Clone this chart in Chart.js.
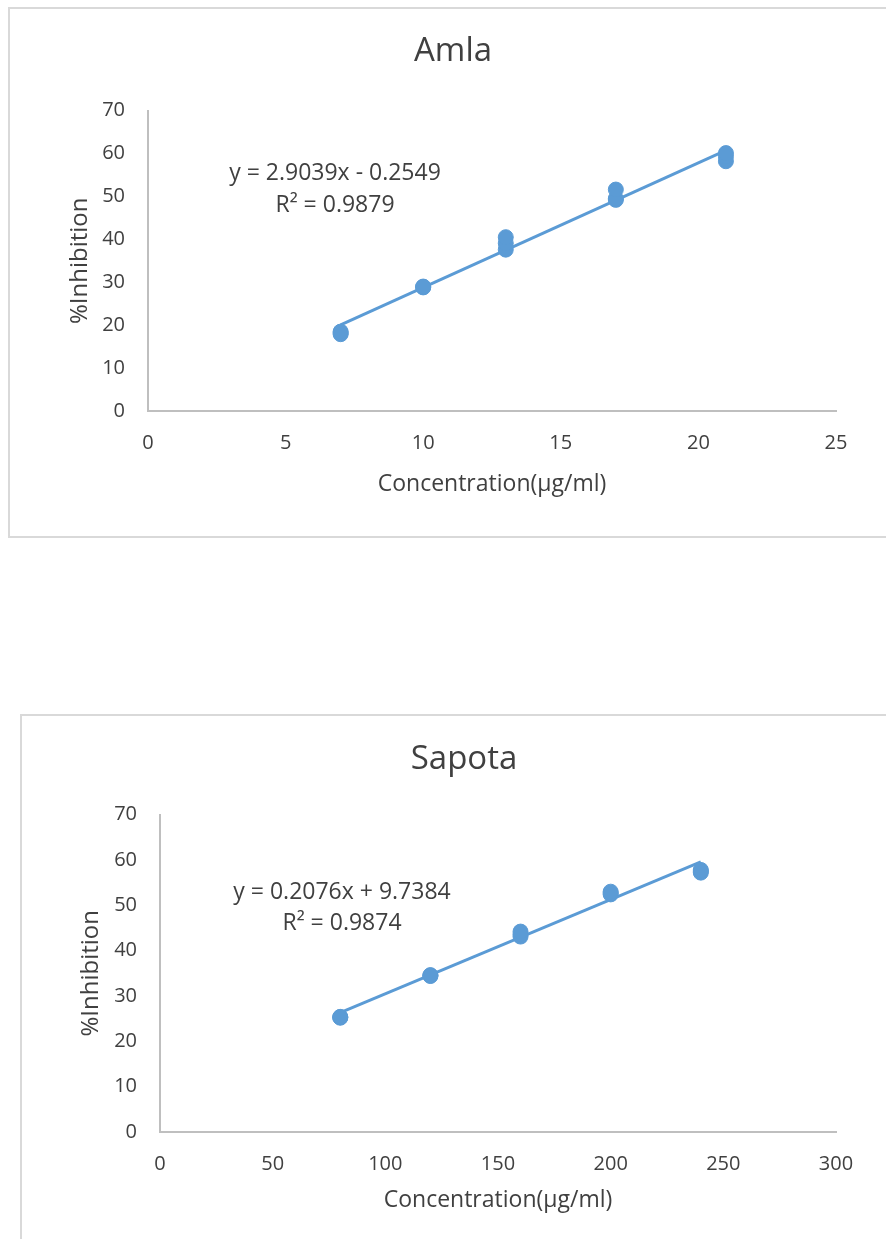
<!DOCTYPE html>
<html>
<head>
<meta charset="utf-8">
<script src="https://cdn.jsdelivr.net/npm/chart.js@4.4.1/dist/chart.umd.min.js"></script>
<style>
  body { margin: 0; background: #fff; width: 886px; height: 1239px; overflow: hidden; position: relative; }
  .frame { position: absolute; border: 2px solid #d9d9d9; box-sizing: border-box; }
  .wrap { position: absolute; left: 0; }
</style>
</head>
<body>
<div class="frame" style="left:8px;top:7px;width:900px;height:531px;"></div>
<div class="frame" style="left:20px;top:714px;width:900px;height:600px;"></div>
<div class="wrap" style="top:0;width:886px;height:545px;"><canvas id="amlaChart"></canvas></div>
<div class="wrap" style="top:700px;width:886px;height:539px;"><canvas id="sapotaChart"></canvas></div>
<script>
// Amla: concentration (µg/ml) vs %inhibition, replicates
const amlaConc = [7, 7, 7, 10, 10, 10, 13, 13, 13, 17, 17, 17, 21, 21, 21];
const amlaInhib = [17.9, 18.2, 18.5, 28.8, 28.9, 29.0, 37.6, 39.1, 40.5, 49.2, 49.5, 51.6, 58.2, 59.3, 60.1];
const amlaSlope = 2.9039;
const amlaIntercept = -0.2549;
const amlaEquation = ["y = 2.9039x - 0.2549", "R² = 0.9879"];
const amlaXTicks = [0, 5, 10, 15, 20, 25];

// Sapota
const sapotaConc = [80, 80, 80, 120, 120, 120, 160, 160, 160, 200, 200, 200, 240, 240, 240];
const sapotaInhib = [25.2, 25.3, 25.4, 34.4, 34.5, 34.6, 43.1, 43.6, 44.2, 52.4, 52.7, 53.0, 57.2, 57.5, 57.8];
const sapotaSlope = 0.2076;
const sapotaIntercept = 9.7384;
const sapotaEquation = ["y = 0.2076x + 9.7384", "R² = 0.9874"];
const sapotaXTicks = [0, 50, 100, 150, 200, 250, 300];

const yTicks = [0, 10, 20, 30, 40, 50, 60, 70];

const BLUE = "#5b9bd5";
const TEXT = "#404040";
const FONT = "'Open Sans', 'Noto Sans', sans-serif";

// draws the trendline equation text inside the chart
const equationPlugin = {
  id: "equation",
  afterDatasetsDraw(chart, args, opts) {
    const ctx = chart.ctx;
    ctx.save();
    ctx.fillStyle = TEXT;
    ctx.font = "23px " + FONT;
    ctx.textAlign = "center";
    ctx.textBaseline = "middle";
    opts.lines.forEach((line, i) => {
      ctx.fillText(line, opts.x, opts.y + i * opts.gap);
    });
    ctx.restore();
  },
};

function makeChart(id, cfg) {
  const points = cfg.xs.map((x, i) => ({ x: x, y: cfg.ys[i] }));
  const xMin = Math.min(...cfg.xs);
  const xMax = Math.max(...cfg.xs);
  const trend = [
    { x: xMin, y: cfg.slope * xMin + cfg.intercept },
    { x: xMax, y: cfg.slope * xMax + cfg.intercept },
  ];

  return new Chart(document.getElementById(id), {
    type: "scatter",
    data: {
      datasets: [
        {
          label: "trend",
          data: trend,
          showLine: true,
          borderColor: BLUE,
          borderWidth: 3,
          pointRadius: 0,
          order: 2,
        },
        {
          label: "data",
          data: points,
          backgroundColor: BLUE,
          borderColor: BLUE,
          pointRadius: 7.5,
          pointBorderWidth: 1,
          order: 1,
        },
      ],
    },
    options: {
      responsive: true,
      maintainAspectRatio: false,
      animation: false,
      layout: { padding: { left: cfg.padLeft, right: 50, top: 0, bottom: 0 } },
      plugins: {
        legend: { display: false },
        tooltip: { enabled: false },
        title: {
          display: true,
          text: cfg.title,
          color: TEXT,
          font: { family: FONT, size: 33, weight: "normal", lineHeight: 1.2 },
          padding: { top: cfg.titleTop, bottom: cfg.titleBottom },
        },
        equation: { lines: cfg.equation, x: cfg.eqX, y: cfg.eqY, gap: cfg.eqGap },
      },
      scales: {
        x: {
          type: "linear",
          min: cfg.xTicks[0],
          max: cfg.xTicks[cfg.xTicks.length - 1],
          afterBuildTicks: (axis) => {
            axis.ticks = cfg.xTicks.map((v) => ({ value: v }));
          },
          afterFit: (axis) => {
            axis.height = cfg.xHeight;
          },
          grid: { display: false, drawTicks: false },
          border: { display: true, color: "#bfbfbf", width: 2 },
          ticks: { color: TEXT, font: { family: FONT, size: 20 }, padding: 20 },
          title: {
            display: true,
            text: "Concentration(µg/ml)",
            color: TEXT,
            font: { family: FONT, size: 23, lineHeight: 1.2 },
            padding: { top: 0, bottom: cfg.xTitlePad },
          },
        },
        y: {
          type: "linear",
          min: 0,
          max: 70,
          afterBuildTicks: (axis) => {
            axis.ticks = yTicks.map((v) => ({ value: v }));
          },
          afterFit: (axis) => {
            axis.width = cfg.yWidth - cfg.padLeft;
          },
          grid: { display: false, drawTicks: false },
          border: { display: true, color: "#bfbfbf", width: 2 },
          ticks: { color: TEXT, font: { family: FONT, size: 20 }, padding: 23 },
          title: {
            display: true,
            text: "%Inhibition",
            color: TEXT,
            font: { family: FONT, size: 24, lineHeight: 1.2 },
            padding: { top: cfg.yTitlePad, bottom: 0 },
          },
        },
      },
    },
    plugins: [equationPlugin],
  });
}

makeChart("amlaChart", {
  title: "Amla",
  xs: amlaConc,
  ys: amlaInhib,
  slope: amlaSlope,
  intercept: amlaIntercept,
  equation: amlaEquation,
  xTicks: amlaXTicks,
  padLeft: 70,
  titleTop: 32,
  titleBottom: 39,
  xHeight: 134,
  xTitlePad: 47,
  yWidth: 148,
  yTitlePad: -4,
  eqX: 335,
  eqY: 173,
  eqGap: 32,
});

makeChart("sapotaChart", {
  title: "Sapota",
  xs: sapotaConc,
  ys: sapotaInhib,
  slope: sapotaSlope,
  intercept: sapotaIntercept,
  equation: sapotaEquation,
  xTicks: sapotaXTicks,
  padLeft: 92,
  titleTop: 40,
  titleBottom: 35,
  xHeight: 107,
  xTitlePad: 25,
  yWidth: 160,
  yTitlePad: -15,
  eqX: 342,
  eqY: 192,
  eqGap: 31,
});
</script>
</body>
</html>
